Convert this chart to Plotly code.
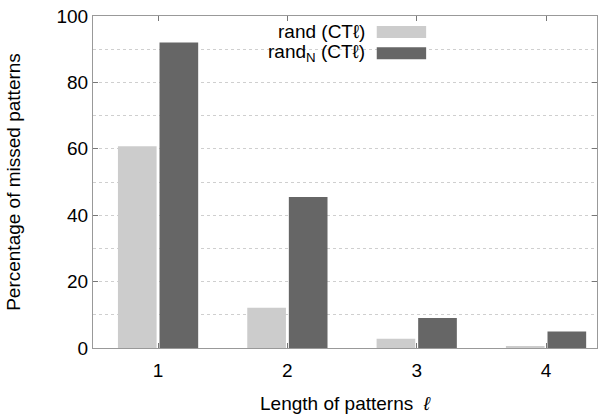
import plotly.graph_objects as go

lengths = [1, 2, 3, 4]
rand_ct = [60.8, 12.1, 2.8, 0.5]
randN_ct = [92.0, 45.5, 9.0, 5.0]
y_ticks = [0, 20, 40, 60, 80, 100]
series_names = ["rand (CT\u2113)", "rand<sub>N</sub> (CT\u2113)"]
colors = ["#cccccc", "#666666"]

fig = go.Figure()
for name, vals, col in zip(series_names, [rand_ct, randN_ct], colors):
    fig.add_trace(go.Bar(x=lengths, y=vals, name=name, marker=dict(color=col, line=dict(width=0)),
                         showlegend=False))

# manual legend (text right-aligned, swatch on right, gnuplot style)
for i, (name, col) in enumerate(zip(series_names, colors)):
    yc = 0.952 - i * 0.064
    fig.add_annotation(xref="paper", yref="paper", x=0.544, y=yc, text=name, showarrow=False,
                       xanchor="right", yanchor="middle",
                       font=dict(family="Liberation Sans, Arial", size=19, color="#000"))
    fig.add_shape(type="rect", xref="paper", yref="paper", x0=0.563, x1=0.661,
                  y0=yc - 0.018, y1=yc + 0.018, fillcolor=col, line=dict(width=0))

axis_font = dict(family="Liberation Sans, Arial", size=19, color="#000")
fig.update_layout(
    width=598, height=416,
    margin=dict(l=93, r=1, t=16, b=68),
    paper_bgcolor="white", plot_bgcolor="white",
    barmode="group", bargap=0.357, bargroupgap=0.07,
    font=axis_font,
    xaxis=dict(range=[0.497, 4.394], tickvals=lengths, ticktext=[str(v) for v in lengths],
               ticks="inside", ticklen=5, tickcolor="#777", showline=True, linecolor="#999",
               linewidth=1, mirror="ticks", showgrid=False, zeroline=False, automargin=False,
               ticklabelstandoff=5, ticklabeloverflow="allow",
               title=dict(text="Length of patterns  <i>\u2113</i>", font=axis_font, standoff=16),
               tickfont=axis_font),
    yaxis=dict(range=[0, 100], tickvals=y_ticks, ticks="inside", ticklen=5, tickcolor="#777",
               showline=True, linecolor="#999", linewidth=1, mirror="ticks", automargin=False,
               ticklabeloverflow="allow",
               showgrid=True, gridcolor="#cfcfcf", griddash="dot", gridwidth=1,
               minor=dict(dtick=10, showgrid=True, gridcolor="#cfcfcf", griddash="dot", ticks=""),
               zeroline=False,
               title=dict(text="Percentage of missed patterns", font=axis_font, standoff=30),
               tickfont=axis_font),
)

fig.write_html("out.html", config={"displayModeBar": False},
               post_script="document.body.style.margin='0';")
